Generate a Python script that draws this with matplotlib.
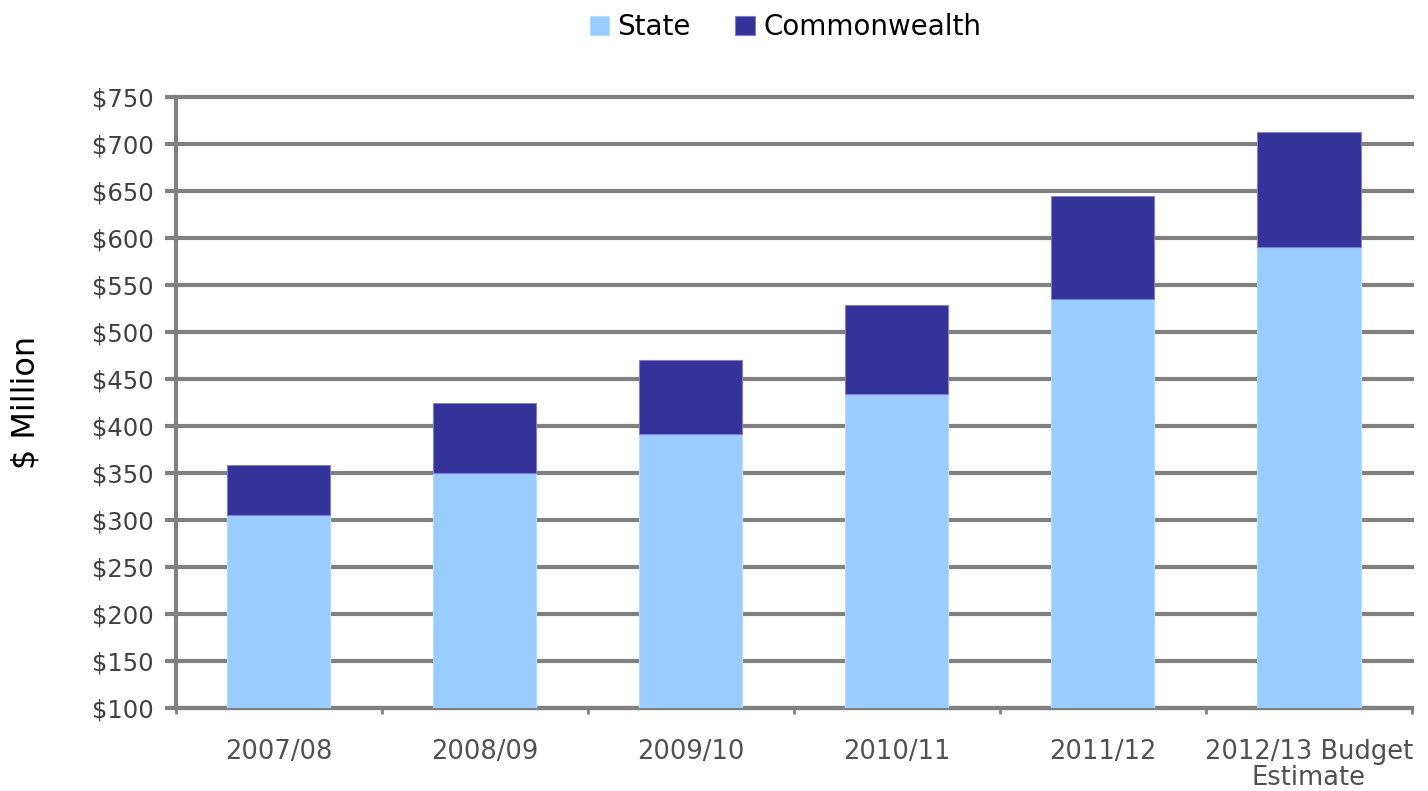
import matplotlib.pyplot as plt
import numpy as np

# data ($ million)
years = ['2007/08', '2008/09', '2009/10', '2010/11', '2011/12', '2012/13 Budget\nEstimate']
state = [305, 350, 392, 434, 535, 590]
commonwealth = [53, 75, 78, 95, 110, 123]

plt.rcParams['font.family'] = ['DejaVu Sans']

fig = plt.figure(figsize=(14.28, 7.91), dpi=100)
ax = fig.add_axes([0.1232, 0.1049, 0.8656, 0.7725])

x = np.arange(len(years))
ax.bar(x, state, width=0.5, bottom=0, color='#99CCFF', edgecolor='#B8DCFF',
       linewidth=0.8, label='State', zorder=3)
ax.bar(x, commonwealth, width=0.5, bottom=state, color='#333399', edgecolor='#8080C8',
       linewidth=0.8, label='Commonwealth', zorder=3)

ax.set_ylim(100, 750)
ax.set_xlim(-0.5, len(years) - 0.5)
ax.set_yticks(np.arange(100, 751, 50))
ax.set_yticklabels(['$%d' % v for v in np.arange(100, 751, 50)])
ax.yaxis.grid(True, color='#808080', linewidth=3, zorder=0)
for gl in ax.get_ygridlines():
    gl.set_clip_on(False)
ax.set_axisbelow(True)

# category labels in the middle, small ticks on boundaries
ax.set_xticks(x)
ax.set_xticklabels(years, fontsize=18.5, color='#505050', linespacing=1.0)
ax.tick_params(axis='x', which='major', length=0, pad=22)
ax.set_xticks(np.arange(-0.5, len(years)), minor=True)
ax.tick_params(axis='x', which='minor', length=4, width=2, color='#808080', direction='out')

ax.tick_params(axis='y', labelsize=17.5, labelcolor='#404040', length=8, width=3,
               color='#808080', pad=8)

for s in ['top', 'right']:
    ax.spines[s].set_visible(False)
ax.spines['left'].set_color('#808080')
ax.spines['left'].set_linewidth(3)
ax.spines['bottom'].set_color('#808080')
ax.spines['bottom'].set_linewidth(3)

ax.set_ylabel('$ Million', fontsize=23, labelpad=36)

fig.legend(loc='upper center', bbox_to_anchor=(0.55, 1.015), ncol=2, frameon=False,
           fontsize=20, handlelength=0.7, handleheight=0.7, handletextpad=0.3,
           columnspacing=1.6)

fig.savefig('out.png', dpi=100)
